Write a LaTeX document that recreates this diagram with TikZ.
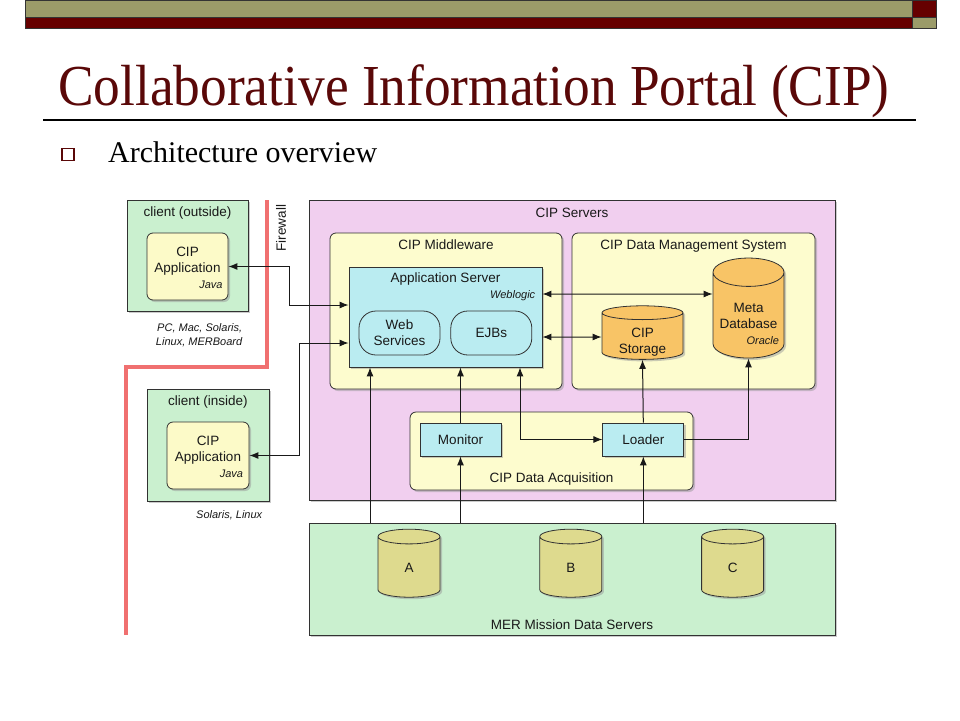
\documentclass[tikz,border=0pt]{standalone}
\usepackage{fontspec}
\setmainfont{Liberation Serif}
\setsansfont{Liberation Sans}
\usepackage{tikz}
\usetikzlibrary{shapes, arrows}
\usetikzlibrary{arrows.meta,calc,positioning,shadows,shapes.geometric}

\tikzset{
	lbl/.style={font=\sffamily\fontsize{13.5}{16}\selectfont, text=black!90, inner sep=1pt, align=center},
	note/.style={font=\sffamily\itshape\fontsize{11}{14}\selectfont, text=black!90, inner sep=1pt},
	box/.style={draw=boxline, line width=0.8pt, inner sep=0pt, lbl},
	shbox/.style={box, drop shadow={shadow xshift=2pt, shadow yshift=-2pt, fill=black!40}},
	client/.style={shbox, fill=clientgreen},
	app/.style={shbox, fill=appyellow, rounded corners=6pt},
	group/.style={shbox, fill=groupyellow, rounded corners=6pt},
	srvbox/.style={shbox, fill=cyanbox},
	pill/.style={box, fill=cyanbox, rounded corners=17pt},
	cyl/.style={shbox, cylinder, shape border rotate=90, aspect=0.45},
	mission/.style={cyl, fill=dbolive, aspect=0.35, minimum width=62pt, minimum height=68pt},
	link/.style={draw=black!90, line width=1pt, -{Latex[length=9pt,width=7pt]}},
	dlink/.style={link, {Latex[length=9pt,width=7pt]}-{Latex[length=9pt,width=7pt]}},
	firewall/.style={draw=fwred, line width=4.5pt}
}
\newcommand{\tagright}[2]{\makebox[#1][r]{\itshape\fontsize{11}{14}\selectfont #2}}
\newcommand{\lowered}[2]{\raisebox{-#1}[\height][\depth]{\begin{tabular}{@{}c@{}}#2\end{tabular}}}

\begin{document}
\begin{tikzpicture}[x=1pt,y=-1pt]
	\definecolor{olivebar}{RGB}{155,155,105}
	\definecolor{redbar}{RGB}{102,0,0}
	\definecolor{titlered}{RGB}{90,8,8}
	\definecolor{boxline}{RGB}{50,50,50}
	\definecolor{clientgreen}{RGB}{202,240,207}
	\definecolor{appyellow}{RGB}{252,250,200}
	\definecolor{groupyellow}{RGB}{253,252,206}
	\definecolor{serverpink}{RGB}{241,207,239}
	\definecolor{cyanbox}{RGB}{186,236,241}
	\definecolor{dborange}{RGB}{248,196,102}
	\definecolor{dbolive}{RGB}{222,218,142}
	\definecolor{fwred}{RGB}{240,112,112}

	\fill[white] (0,0) rectangle (960,720);
	\useasboundingbox (0,0) rectangle (960,720);

	\filldraw[fill=olivebar, draw=black!80, line width=0.6pt] (25,0) rectangle (912,17);
	\filldraw[fill=redbar, draw=black!80, line width=0.6pt] (25,17) rectangle (912,28);
	\filldraw[fill=redbar, draw=black!80, line width=0.6pt] (912,0) rectangle (936,17);
	\filldraw[fill=olivebar, draw=black!80, line width=0.6pt] (912,17) rectangle (936,28);

	\node[anchor=base west, inner sep=0pt, text=titlered, font=\fontsize{58}{64}\selectfont] (title) at (58,105) {\scalebox{0.92}[1]{Collaborative Information Portal (CIP)}};
	\draw[line width=1.2pt] (43,120) -- (916,120);
	\node[draw=titlered, line width=1.6pt, minimum size=12pt, inner sep=0pt] (bullet) at (68,154.5) {};
	\node[anchor=base west, inner sep=0pt, font=\fontsize{30}{36}\selectfont] (subtitle) at (108,162) {Architecture overview};

	\draw[firewall] (267,200) -- (267,367) -- (126,367) -- (126,635);
	\node[lbl, rotate=90] (fwlbl) at (281,228) {Firewall};

	\node[client, minimum width=121pt, minimum height=111pt] (clientout) at (187.5,255.5) {};
	\node[lbl, below=6pt of clientout.north] (clientoutlbl) {client (outside)};
	\node[app, minimum width=81pt, minimum height=67pt] (appout) at (187.5,266.5) {\lowered{3pt}{CIP\\Application\\\tagright{70pt}{Java}}};
	\node[note, align=right, below left=11pt and 5pt of clientout.south east] (outos) {PC, Mac, Solaris,\\Linux, MERBoard};

	\node[client, minimum width=122pt, minimum height=112pt] (clientin) at (208,445) {};
	\node[lbl, below=6pt of clientin.north] (clientinlbl) {client (inside)};
	\node[app, minimum width=82pt, minimum height=67pt] (appin) at (208,455.5) {\lowered{3pt}{CIP\\Application\\\tagright{70pt}{Java}}};
	\node[note, below left=8pt and 6pt of clientin.south east] (inos) {Solaris, Linux};

	\node[shbox, fill=serverpink, minimum width=526pt, minimum height=300pt] (servers) at (572,350) {};
	\node[lbl, below=7pt of servers.north] (serverslbl) {CIP Servers};

	\node[group, minimum width=232pt, minimum height=156pt] (mw) at (446,311) {};
	\node[lbl, below=6pt of mw.north] (mwlbl) {CIP Middleware};
	\node[srvbox, minimum width=193pt, minimum height=100pt] (appsrv) at (445.5,317) {};
	\node[lbl, below=5pt of appsrv.north] (appsrvlbl) {Application Server};
	\node[note, anchor=east] (weblogic) at ([xshift=-6pt,yshift=21pt]appsrv.east) {Weblogic};
	\node[pill, minimum width=81pt, minimum height=44pt] (websvc) at (399.5,333) {Web\\Services};
	\node[pill, minimum width=81pt, minimum height=44pt, right=10pt of websvc] (ejb) {EJBs};

	\node[group, minimum width=243pt, minimum height=156pt] (dms) at (693.5,311) {};
	\node[lbl, below=6pt of dms.north] (dmslbl) {CIP Data Management System};
	\node[cyl, fill=dborange, aspect=0.28, minimum width=81pt, minimum height=47pt] (storage) at (642.5,337) {\lowered{5pt}{CIP\\Storage}};
	\node[cyl, fill=dborange, minimum width=71pt, minimum height=100pt] (metadb) at (748.5,317) {\lowered{8pt}{Meta\\Database\\\tagright{61pt}{Oracle}}};

	\node[group, minimum width=283pt, minimum height=78pt] (acq) at (551.5,451) {};
	\node[lbl, above=4pt of acq.south] (acqlbl) {CIP Data Acquisition};
	\node[srvbox, minimum width=81pt, minimum height=33pt] (monitor) at (460.5,439.5) {Monitor};
	\node[srvbox, minimum width=81pt, minimum height=33pt, right=101pt of monitor] (loader) {Loader};

	\node[shbox, fill=clientgreen, minimum width=526pt, minimum height=112pt] (mer) at (572,579) {};
	\node[lbl, above=5pt of mer.south] (merlbl) {MER Mission Data Servers};
	\node[mission] (dbA) at (409,568) {\makebox[40pt]{A}};
	\node[mission, right=99pt of dbA] (dbB) {\makebox[40pt]{B}};
	\node[mission, right=99pt of dbB] (dbC) {\makebox[40pt]{C}};

	\draw[dlink] (appout.east) -- ++(61,0) |- ([yshift=12pt]appsrv.west);
	\draw[dlink] (appin.east) -- ++(50,0) |- ([yshift=-26pt]appsrv.west);
	\draw[dlink] ([yshift=23pt]appsrv.east) -- ([yshift=23pt]metadb.west);
	\draw[dlink] ([yshift=-20pt]appsrv.east) -- (storage.west);

	\coordinate (merin) at ([xshift=-75.5pt]appsrv.south);
	\draw[link] (merin |- mer.north) -- (merin);
	\draw[link] (monitor.north) -- (monitor.north |- appsrv.south);
	\draw[link] (monitor.south |- mer.north) -- (monitor.south);
	\draw[dlink] (loader.west) -| ([xshift=74.5pt]appsrv.south);
	\draw[link] (loader.north) -- (storage.south);
	\draw[link] (loader.south |- mer.north) -- (loader.south);
	\draw[link] (loader.east) -| (metadb.south);
\end{tikzpicture}
\end{document}
